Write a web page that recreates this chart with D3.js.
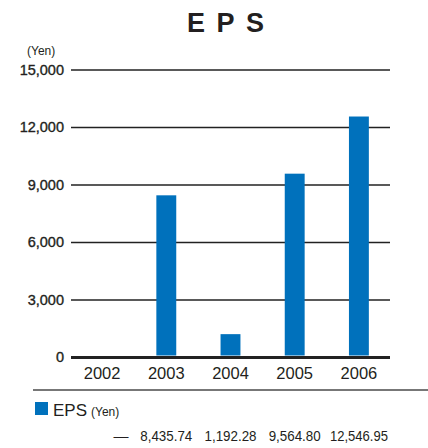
<!DOCTYPE html>
<html>
<head>
<meta charset="utf-8">
<script src="https://cdn.jsdelivr.net/npm/d3@7"></script>
<style>
html,body{margin:0;padding:0;background:#fff;}
svg{display:block;font-family:"Liberation Sans",Arial,Helvetica,sans-serif;}
</style>
</head>
<body>
<svg id="chart" width="428" height="448"></svg>
<script>
const years = ["2002","2003","2004","2005","2006"];
const eps = [null, 8435.74, 1192.28, 9564.80, 12546.95];
const epsLabels = ["—","8,435.74","1,192.28","9,564.80","12,546.95"];
const yTicks = [0, 3000, 6000, 9000, 12000, 15000];

const svg = d3.select("#chart");
const x = d3.scaleBand().domain(years).range([70, 391]).paddingInner(0.69).paddingOuter(0.345);
const y = d3.scaleLinear().domain([0, 15000]).range([357, 69.5]);
const blue = "#0071bc";

// title
svg.append("text").attr("x", 187).attr("y", 32).attr("text-anchor", "start")
  .attr("font-size", 27).attr("font-weight", "bold").attr("fill", "#231f20")
  .attr("letter-spacing", 11.5).text("EPS");

// unit
svg.append("text").attr("x", 27).attr("y", 55).attr("font-size", 12).attr("fill", "#231f20").text("(Yen)");

// y axis gridlines and labels
const yAxis = d3.axisLeft(y).tickValues(yTicks).tickSize(-(390 - 71)).tickPadding(7)
  .tickFormat(d3.format(","));
const gy = svg.append("g").attr("transform", "translate(71,0)").call(yAxis);
gy.select(".domain").remove();
gy.selectAll(".tick line").attr("stroke", "#222").attr("stroke-width", d => d === 0 ? 3 : 1.3);
gy.selectAll(".tick text").attr("font-size", 14.5).attr("fill", "#231f20")
  .attr("font-family", "Liberation Sans, Arial, sans-serif")
  .attr("stroke", "#231f20").attr("stroke-width", 0.35);

// bars
svg.append("g").selectAll("rect").data(years.map((yr, i) => ({yr, v: eps[i]})).filter(d => d.v != null))
  .join("rect")
  .attr("x", d => x(d.yr)).attr("width", x.bandwidth())
  .attr("y", d => y(d.v)).attr("height", d => y(0) - y(d.v) - 1.5)
  .attr("fill", blue);

// x axis labels
const xAxis = d3.axisBottom(x).tickSize(0).tickPadding(10);
const gx = svg.append("g").attr("transform", "translate(0,357)").call(xAxis);
gx.select(".domain").remove();
gx.selectAll(".tick text").attr("font-size", 16.5).attr("fill", "#231f20")
  .attr("font-family", "Liberation Sans, Arial, sans-serif");

// separator
svg.append("line").attr("x1", 33).attr("x2", 428).attr("y1", 390).attr("y2", 390)
  .attr("stroke", "#777").attr("stroke-width", 2);

// legend
svg.append("rect").attr("x", 35).attr("y", 402).attr("width", 13).attr("height", 13).attr("fill", blue);
const lt = svg.append("text").attr("x", 53).attr("y", 415.5).attr("fill", "#231f20");
lt.append("tspan").attr("font-size", 17).text("EPS");
lt.append("tspan").attr("font-size", 12).attr("dx", 4).text("(Yen)");

// values row
svg.append("g").selectAll("text").data(years.map((yr, i) => ({yr, t: epsLabels[i]})))
  .join("text")
  .attr("x", (d, i) => i === 0 ? 121 : x(d.yr) + x.bandwidth() / 2)
  .attr("y", 441).attr("text-anchor", "middle")
  .attr("font-size", 15).attr("fill", "#231f20")
  .attr("textLength", (d, i) => i === 0 ? null : (d.t.length > 8 ? 58 : 52))
  .attr("lengthAdjust", "spacingAndGlyphs")
  .text(d => d.t);
</script>
</body>
</html>
